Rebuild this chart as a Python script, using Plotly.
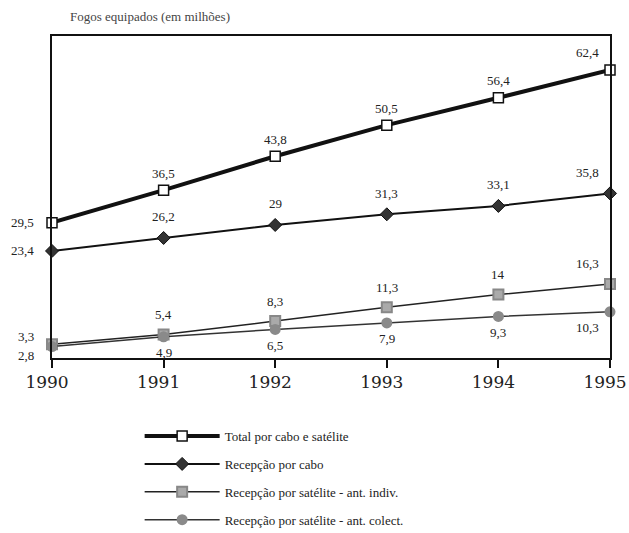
import plotly.graph_objects as go

years = [1990, 1991, 1992, 1993, 1994, 1995]
total = [29.5, 36.5, 43.8, 50.5, 56.4, 62.4]
cabo = [23.4, 26.2, 29, 31.3, 33.1, 35.8]
sat_indiv = [3.3, 5.4, 8.3, 11.3, 14, 16.3]
sat_colect = [2.8, 4.9, 6.5, 7.9, 9.3, 10.3]
names = ["Total por cabo e satélite", "Recepção por cabo",
         "Recepção por satélite - ant. indiv.", "Recepção por satélite - ant. colect."]

FONT = "Times New Roman, Liberation Serif, serif"
FONT2 = "DejaVu Serif"

def fmt(v):
    return f"{v:g}".replace(".", ",")

fig = go.Figure()
styles = [
    dict(values=total, line=dict(color="#111", width=4),
         marker=dict(symbol="square", size=10, color="white", line=dict(color="#111", width=1.5)),
         dy=17, left_dy=0),
    dict(values=cabo, line=dict(color="#111", width=2),
         marker=dict(symbol="diamond", size=10, color="#333", line=dict(color="#111", width=1)),
         dy=21, left_dy=0),
    dict(values=sat_indiv, line=dict(color="#222", width=1.5),
         marker=dict(symbol="square", size=10, color="#aaa", line=dict(color="#888", width=2)),
         dy=20, left_dy=8),
    dict(values=sat_colect, line=dict(color="#333", width=1.5),
         marker=dict(symbol="circle", size=11, color="#8a8a8a", line=dict(color="#8a8a8a", width=0)),
         dy=-16, left_dy=-9),
]

annotations = []
for i, (nm, st) in enumerate(zip(names, styles)):
    fig.add_trace(go.Scatter(
        x=years, y=st["values"], mode="lines+markers", name=nm,
        line=st["line"], marker=st["marker"], cliponaxis=False,
        legendgroup=str(i),
    ))
    for j, (x, v) in enumerate(zip(years, st["values"])):
        if j == 0:
            annotations.append(dict(x=x, y=v, text=fmt(v), showarrow=False,
                                    xanchor="right", xshift=-16, yshift=st["left_dy"],
                                    font=dict(family=FONT, size=13, color="#222")))
        else:
            annotations.append(dict(x=x, y=v, text=fmt(v), showarrow=False,
                                    xanchor="center", xshift=(-23 if j == len(years) - 1 else 0),
                                    yshift=st["dy"],
                                    font=dict(family=FONT, size=13, color="#222")))

annotations.append(dict(xref="paper", yref="paper", x=0, y=1.0, xshift=16, yshift=10,
                        xanchor="left", yanchor="bottom", showarrow=False,
                        text="Fogos equipados (em milhões)",
                        font=dict(family=FONT, size=13, color="#444")))

fig.update_layout(
    template="none",
    width=629, height=533,
    margin=dict(l=52, r=19, t=36, b=175, autoexpand=False),
    paper_bgcolor="white", plot_bgcolor="white",
    showlegend=True,
    legend=dict(xref="container", yref="container", x=0.222, y=0.21,
                xanchor="left", yanchor="top",
                font=dict(family=FONT, size=13, color="#222"),
                tracegroupgap=8, itemwidth=75, bgcolor="rgba(0,0,0,0)"),
    annotations=annotations,
    font=dict(family=FONT),
)
fig.update_xaxes(range=[1990, 1995], tickvals=years, ticktext=[str(y) for y in years],
                 showgrid=False, zeroline=False, showline=True, linecolor="#111", linewidth=2,
                 mirror=True, ticks="outside", ticklen=8, tickwidth=2, tickcolor="#111",
                 ticklabelshift=-5, automargin=False,
                 tickfont=dict(family=FONT2, size=17, color="#222"))
fig.update_yaxes(range=[0.35, 69.7], showticklabels=False, showgrid=False, zeroline=False,
                 showline=True, linecolor="#111", linewidth=2, mirror=True, ticks="",
                 automargin=False)

fig.write_html("out.html", config={"displayModeBar": False},
               post_script="document.body.style.margin='0';document.body.style.overflow='hidden';")
